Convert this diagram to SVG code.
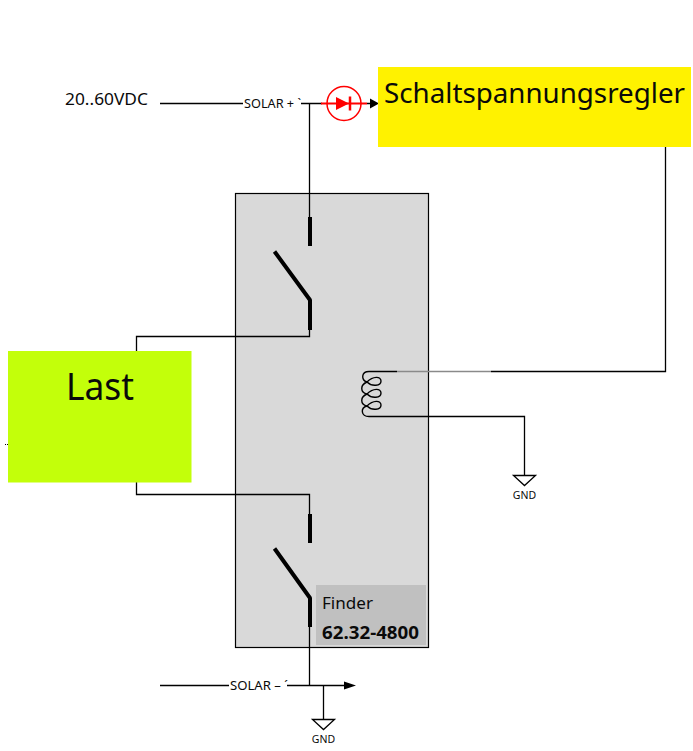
<svg xmlns="http://www.w3.org/2000/svg" width="693" height="751" viewBox="0 0 693 751">
<style>
text{font-family:"Noto Sans","Open Sans","Liberation Sans",sans-serif;fill:#0a0a0a}
.w{fill:none;stroke:#000;stroke-width:1.3}
.t{fill:none;stroke:#000;stroke-width:4;stroke-linejoin:bevel}
.s{font-size:12px}
.g{font-size:10.500px;text-anchor:middle}
</style>
<rect width="693" height="751" fill="#fff"/>
<g id="relay">
<rect x="235.500" y="193.500" width="193" height="454" fill="#d9d9d9" stroke="#000" stroke-width="1.200"/>
<rect x="316" y="585" width="110" height="60" fill="#c0c0c0"/>
<text x="322" y="609" font-size="17" textLength="51" lengthAdjust="spacingAndGlyphs">Finder</text>
<text x="322" y="639" font-size="18" font-weight="700" textLength="97" lengthAdjust="spacingAndGlyphs">62.32-4800</text>
</g>
<g id="connectors">
<path class="w" d="M160 103.500H243M301 103.500H322M367 103.500H372"/>
<path d="M370 98.500L379 103.500L370 108.500Z" fill="#000"/>
<path class="w" d="M309.500 103.500V218"/>
<path class="w" d="M309.500 330V336.500H136.500V351"/>
<path class="w" d="M136.500 482V494.500H309.500V515"/>
<path class="w" d="M309.500 627V685.500"/>
<path class="w" d="M160 685.500H229M287 685.500H345"/>
<path d="M344 681.500L356 685.500L344 689.500Z" fill="#000"/>
<path class="w" d="M323.500 685.500V719"/>
<path class="w" d="M491 371.500H665.500V147"/>
<path d="M397 371.500H491" fill="none" stroke="#8a8a8a" stroke-width="1.300"/>
<path class="w" d="M397 416.500H524.500V475"/>
</g>
<g id="switch-top">
<path class="t" d="M310 217V246"/>
<path class="t" d="M274.500 251.500L310 300V330"/>
</g>
<g id="switch-bottom">
<path class="t" d="M310 514V543"/>
<path class="t" d="M274.500 548.500L310 598V627"/>
</g>
<g id="coil">
<path d="M397 371.500H369C361 371.500 361 380 367 382C373 376 381 376 381 381C381 386 372 387 367 382C360 385 360 392 367 394C373 388 381 388 381 393C381 398 372 399 367 394C360 397 360 404 367 406C373 400 381 400 381 405C381 410 372 411 367 406C360 408 361 416.500 369 416.500H397" fill="none" stroke="#000" stroke-width="1.400"/>
</g>
<g id="diode">
<circle cx="344" cy="103.500" r="17" fill="#fff" stroke="#f00" stroke-width="1.500"/>
<path d="M321 103.500H367" fill="none" stroke="#f00" stroke-width="2"/>
<path d="M336 97L349 103.500L336 110Z" fill="#f00"/>
<path d="M350 96.500V110.500" fill="none" stroke="#f00" stroke-width="2.500"/>
</g>
<g id="regler">
<rect x="378" y="67" width="313" height="80" fill="#fff200"/>
<text x="384" y="103" font-size="28" textLength="301" lengthAdjust="spacingAndGlyphs">Schaltspannungsregler</text>
</g>
<g id="last">
<rect x="8" y="351" width="183.500" height="131.500" fill="#c3ff0a"/>
<text x="66" y="400" font-size="38" textLength="68" lengthAdjust="spacingAndGlyphs">Last</text>
</g>
<g id="gnd-right">
<path d="M513.500 475.500H535.500L524.500 485.500Z" fill="#fff" stroke="#000" stroke-width="1.300"/>
<text class="g" x="524.500" y="499">GND</text>
</g>
<g id="gnd-bottom">
<path d="M312.500 719.500H334.500L323.500 729.500Z" fill="#fff" stroke="#000" stroke-width="1.300"/>
<text class="g" x="323.500" y="743">GND</text>
</g>
<g id="labels">
<text x="65" y="105" font-size="17" textLength="83" lengthAdjust="spacingAndGlyphs">20..60VDC</text>
<text class="s" x="244" y="107.500" textLength="57" lengthAdjust="spacingAndGlyphs">SOLAR + `</text>
<text class="s" x="230" y="689.500" textLength="58" lengthAdjust="spacingAndGlyphs">SOLAR – ´</text>
</g>
<g id="dots"><rect x="5" y="444" width="1" height="1" fill="#000"/><rect x="7" y="444" width="1" height="1" fill="#000"/></g>
</svg>
